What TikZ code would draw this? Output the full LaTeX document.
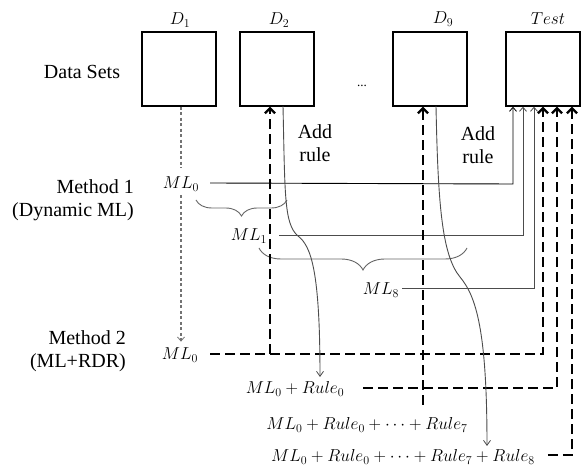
\documentclass[tikz,border=0pt]{standalone}
\usepackage{fontspec}
\newfontfamily\tnr{LiberationSerif}[Extension=.ttf, UprightFont=*-Regular, BoldFont=*-Bold, ItalicFont=*-Italic]
\usetikzlibrary{arrows.meta,decorations.pathreplacing,calc}
\begin{document}
\begin{tikzpicture}[x=1pt,y=-1pt,
  txt/.style={font=\tnr\fontsize{20}{23}\selectfont, inner sep=0pt},
  mth/.style={font=\fontsize{18.5}{22}\selectfont, inner sep=0pt},
  dbox/.style={draw, line width=1.5pt, minimum width=74pt, minimum height=74pt, inner sep=0pt},
  thickd/.style={line width=2.6pt, dash pattern=on 10pt off 5pt},
  thickarr/.style={thickd, -{Straight Barb[length=5pt,width=10pt,line width=2.2pt]}},
  thinln/.style={line width=0.9pt, draw=black!85},
  thinarr/.style={thinln, draw=black!70, -{Straight Barb[length=4pt,width=7pt,line width=0.8pt]}},
  curvarr/.style={line width=0.9pt, draw=black!70, -{Straight Barb[length=5pt,width=7pt,line width=0.8pt]}},
  bracestyle/.style={line width=0.9pt, draw=black!60, decorate, decoration={brace, mirror, amplitude=#1}},
  grayd/.style={line width=1.1pt, draw=black!55, dash pattern=on 3pt off 2.5pt}
]
\useasboundingbox (0,0) rectangle (582,470);

% data set boxes
\node[dbox] (D1) at (179,69) {};
\node[dbox] (D2) at (277,69) {};
\node[dbox] (D9) at (430,69) {};
\node[dbox] (T)  at (543,69) {};
\node[mth] (lD1) at (180,20) {$D_1$};
\node[mth] (lD2) at (279,20) {$D_2$};
\node[mth] (lD9) at (443,19) {$D_9$};
\node[mth] (lT)  at (548,19) {$Test$};
\node[txt] (ds) at (82,72) {Data Sets};
\node[font=\tnr\fontsize{13}{15}\selectfont, inner sep=0pt] (dots) at (362,86) {...};

% method labels
\node[txt, anchor=east, align=right] (meth1) at (134,200) {Method 1\\(Dynamic ML)};
\node[txt, anchor=east, align=right] (meth2) at (126,351) {Method 2\\(ML+RDR)};

% models
\node[mth] (m1) at (181,184) {$ML_0$};
\node[mth] (ml1) at (249,236) {$ML_1$};
\node[mth] (ml8) at (381,290) {$ML_8$};
\node[mth] (m2) at (180,355) {$ML_0$};
\node[mth] (r0) at (295,389) {$ML_0+Rule_0$};
\node[mth] (r7) at (367,425) {$ML_0+Rule_0+\cdots+Rule_7$};
\node[mth] (r8) at (403,457) {$ML_0+Rule_0+\cdots+Rule_7+Rule_8$};

\node[txt, align=center] (add1) at (315,143) {Add\\rule};
\node[txt, align=center] (add2) at (478,145) {Add\\rule};

% D1 dashed gray line
\draw[grayd, shorten >=9pt] (m1.north |- D1.south) -- (m1.north);
\draw[grayd, shorten <=4pt, shorten >=6pt, -{Straight Barb[length=4pt,width=7pt,line width=0.8pt]}] (m1.south) -- (m1.south |- m2.north);

% braces
\draw[bracestyle=16pt] (196,200) -- (287,200);
\draw[bracestyle=22pt] (259,248) -- (467,248);

% method 1 lines into Test
\coordinate (t1) at (513,184);
\coordinate (t2) at (523,235);
\coordinate (t3) at (534,288);
\draw[thinarr, draw=black] ($(m1.east)+(11,-1)$) -- (t1) -- (t1 |- T.south);
\draw[thinarr] ($(ml1.east)+(12,-1)$) -- (t2) -- (t2 |- T.south);
\draw[thinarr] ($(ml8.east)+(3,-2)$) -- (t3) -- (t3 |- T.south);

% method 2 thick dashed lines
\coordinate (k1) at (543,354);
\coordinate (k2) at (557,388);
\coordinate (k3) at (572,455);
\coordinate (j1) at (270,354);
\coordinate (j2) at (423,405);
\draw[thickarr] ($(m2.east)+(12,-1)$) -- (k1) -- (k1 |- T.south);
\draw[thickarr] (j1) -- (j1 |- D2.south);
\draw[thickarr] ($(r0.east)+(19,-1)$) -- (k2) -- (k2 |- T.south);
\draw[thickarr] (j2) -- (j2 |- D9.south);
\draw[thickarr] ($(r8.east)+(13,-2)$) -- (k3) -- (k3 |- T.south);

% add-rule curves
\coordinate (c1s) at (283,106);
\coordinate (c1e) at (320,377);
\coordinate (c2s) at (436,106);
\coordinate (c2e) at (487,446);
\draw[curvarr] (c1s) .. controls (285,195) and (284,224) .. (298,236)
  .. controls (311,246) and (320,270) .. (c1e);
\draw[curvarr] (c2s) .. controls (438,205) and (442,255) .. (460,277)
  .. controls (476,296) and (487,330) .. (c2e);
\end{tikzpicture}
\end{document}
